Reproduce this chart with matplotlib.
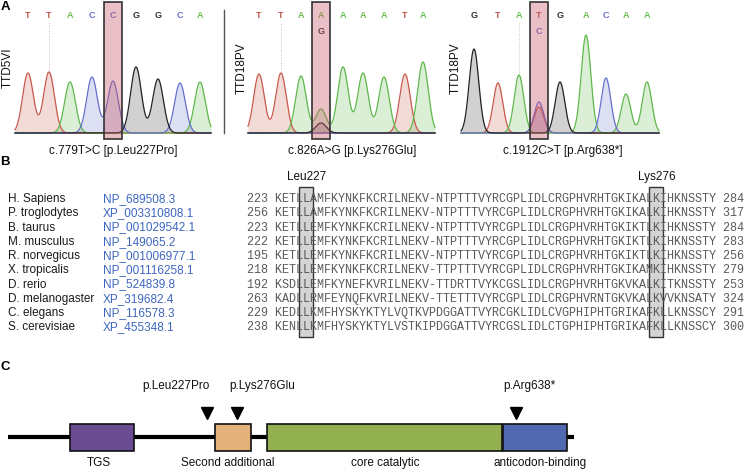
import numpy as np
import matplotlib
matplotlib.use("Agg")
import matplotlib.pyplot as plt
from matplotlib.patches import Rectangle

plt.rcParams['font.family'] = ['Liberation Sans', 'DejaVu Sans']

W, H = 748, 471

# ---------------- Panel A data (chromatograms) ----------------
samples = ["TTD5VI", "TTD18PV", "TTD18PV"]
captions = ["c.779T>C [p.Leu227Pro]", "c.826A>G [p.Lys276Glu]", "c.1912C>T [p.Arg638*]"]

calls_1 = list("TTACCGGCA")
peak_pos_1 = [28, 49, 70, 92, 113, 136, 158, 180, 200]
peak_h_1 = [60, 61, 51, 56, 52, 66, 54, 50, 51]

calls_2 = list("TTAAAAATA")
peak_pos_2 = [259, 281, 301, 321, 343, 363, 384, 405, 423]
peak_h_2 = [59, 60, 57, 24, 66, 60, 56, 59, 71]

calls_3 = list("GTATGACAA")
peak_pos_3 = [474, 498, 519, 539, 560, 586, 606, 626, 647]
peak_h_3 = [84, 50, 58, 26, 51, 98, 55, 39, 51]

mut_index = [4, 3, 3]
alt_base = [None, "G", "C"]
alt_height = [0, 10, 31]
cursor_index = [1, 1, 2]

# ---------------- Panel B data (alignment) ----------------
species = ["H. Sapiens", "P. troglodytes", "B. taurus", "M. musculus", "R. norvegicus",
           "X. tropicalis", "D. rerio", "D. melanogaster", "C. elegans", "S. cerevisiae"]
accessions = ["NP_689508.3", "XP_003310808.1", "NP_001029542.1", "NP_149065.2",
              "NP_001006977.1", "NP_001116258.1", "NP_524839.8", "XP_319682.4",
              "NP_116578.3", "XP_455348.1"]
seq_start = [223, 256, 223, 222, 195, 218, 192, 263, 229, 238]
seq_end = [284, 317, 284, 283, 256, 279, 253, 324, 291, 300]
sequences = [
    "KETLLAMFKYNKFKCRILNEKV-NTPTTTVYRCGPLIDLCRGPHVRHTGKIKALKIHKNSSTY",
    "KETLLAMFKYNKFKCRILNEKV-NTPTTTVYRCGPLIDLCRGPHVRHTGKIKALKIHKNSSTY",
    "KETLLEMFKYNKFKCRILNEKV-NTPTTTVYRCGPLIDLCRGPHVRHTGKIKTLKIHKNSSTY",
    "KETLLEMFKYNKFKCRILNEKV-NTPTTTVYRCGPLIDLCRGPHVRHTGKIKTLKIHKNSSTY",
    "KETLLEMFKYNKFKCRILNEKV-NTPTTTVYRCGPLIDLCRGPHVRHTGKIKTLKIHKNSSTY",
    "KETLLEMFKYNKFKCRILNEKV-TTPTTTVYRCGPLIDLCRGPHVRHTGKIKAMKIHKNSSTY",
    "KSDLLEMFKYNEFKVRILNEKV-TTDRTTVYKCGSLIDLCRGPHVRHTGKVKALKITKNSSTY",
    "KADLLRMFEYNQFKVRILNEKV-TTETTTVYRCGPLIDLCRGPHVRNTGKVKALKVVKNSATY",
    "KEDLLKMFHYSKYKTYLVQTKVPDGGATTVYRCGKLIDLCVGPHIPHTGRIKAFKLLKNSSCY",
    "KENLLKMFHYSKYKTYLVSTKIPDGGATTVYRCGSLIDLCTGPHIPHTGRIKAFKLLKNSSCY",
]
highlight_labels = ["Leu227", "Lys276"]
highlight_cols = [4, 54]

# ---------------- Panel C data (domains) ----------------
domain_names = ["TGS", "Second additional", "core catalytic", "anticodon-binding"]
domain_start = [70, 215, 267, 503]
domain_end = [134, 251, 502, 567]
domain_colors = ["#6a4c93", "#e3b27c", "#93b051", "#5068b0"]
protein_span = [8, 574]
mutations = ["p.Leu227Pro", "p.Lys276Glu", "p.Arg638*"]
mutation_pos = [207, 237, 516]

# ---------------- styles ----------------
base_line = {"A": "#5fb84a", "C": "#6670cc", "G": "#222222", "T": "#c8594c"}
base_text = {"A": "#6cbf52", "C": "#6a6fcc", "G": "#333333", "T": "#c0574b"}
SEQ_GRAY = "#5a5a5a"
ACC_BLUE = "#3d66c0"

fig = plt.figure(figsize=(W / 100, H / 100), dpi=100)
ax0 = fig.add_axes([0, 0, 1, 1])
ax0.set_xlim(0, W)
ax0.set_ylim(H, 0)
ax0.axis("off")


def px_axes(x0, y0, x1, y1):
    return fig.add_axes([x0 / W, 1 - y1 / H, (x1 - x0) / W, (y1 - y0) / H])


# ---------------- Panel A ----------------
panel_calls = [calls_1, calls_2, calls_3]
panel_pos = [peak_pos_1, peak_pos_2, peak_pos_3]
panel_h = [peak_h_1, peak_h_2, peak_h_3]
trace_span = [(15, 211), (248, 435), (461, 659)]
axes_span = [(10, 222), (244, 448), (458, 668)]
sigmas = [5.4, 5.3, 4.8]
sample_x = [8, 242, 456]
caption_x = [113, 352, 563]

for k in range(3):
    xa0, xa1 = axes_span[k]
    ax = px_axes(xa0, 2, xa1, 139)
    ax.set_xlim(xa0, xa1)
    ax.set_ylim(-6, 131)
    ax.axis("off")
    t0, t1 = trace_span[k]
    x = np.linspace(t0, t1, 1200)
    calls = panel_calls[k]
    pos = panel_pos[k]
    hts = panel_h[k]
    sig = sigmas[k]
    for b in "TACG":
        y = np.zeros_like(x)
        for c, p, h in zip(calls, pos, hts):
            if c == b:
                y += h * np.exp(-(x - p) ** 2 / (2 * sig ** 2))
        if alt_base[k] == b:
            p = pos[mut_index[k]]
            y += alt_height[k] * np.exp(-(x - p) ** 2 / (2 * sig ** 2))
        fc = "#9a9a9a" if b == "G" else base_line[b]
        ax.fill_between(x, 0, y, color=fc, alpha=0.22 if b != "G" else 0.45, lw=0)
        ax.plot(x, y, color=base_line[b], lw=0.9)
    # cursor dotted line
    ci = cursor_index[k]
    ax.plot([pos[ci], pos[ci]], [hts[ci] + 2, 111], ls=":", lw=0.7,
            color="#d9b4b4" if k < 2 else "#b9d4b0")
    # base calls
    for c, p in zip(calls, pos):
        ax.text(p, 118, c, color=base_text[c], fontsize=6.5, fontweight="bold",
                ha="center", va="center")
    if alt_base[k]:
        p = pos[mut_index[k]]
        ax.text(p, 101, alt_base[k], color=base_text[alt_base[k]], fontsize=6.5,
                fontweight="bold", ha="center", va="center")
    # highlight box
    pm = pos[mut_index[k]]
    ax.add_patch(Rectangle((pm - 9.2, -6), 18.4, 137, facecolor=(0.80, 0.35, 0.42, 0.38),
                           edgecolor="#333333", lw=1.2, clip_on=False, zorder=5))
    ax0.text(sample_x[k], 68, samples[k], rotation=90, fontsize=8.5, ha="center",
             va="center", color="#111111")
    ax0.text(caption_x[k], 151, captions[k], fontsize=8.5, ha="center", va="center",
             color="#111111")

ax0.plot([224, 224], [10, 133], color="#555555", lw=1.0)

# panel letters
for lab, yy in zip("ABC", [7, 162, 367]):
    ax0.text(5, yy, lab, fontsize=9.5, fontweight="bold", ha="center", va="center")

# ---------------- Panel B ----------------
row_y0, row_dy = 199, 14.26
seq_x0 = 247
cw = 7.0
for i in range(len(species)):
    yy = row_y0 + i * row_dy
    ax0.text(8, yy, species[i], fontsize=8.5, ha="left", va="center", color="#1a1a1a")
    ax0.text(103, yy, accessions[i], fontsize=8.5, ha="left", va="center", color=ACC_BLUE)
    row = f"{seq_start[i]} {sequences[i]} {seq_end[i]}"
    ax0.text(seq_x0, yy, row, fontsize=8.5, family="Liberation Mono", ha="left",
             va="center", color=SEQ_GRAY, zorder=3)

for lab, col in zip(highlight_labels, highlight_cols):
    cx = seq_x0 + (col + 4 + 0.5) * cw
    ax0.add_patch(Rectangle((cx - cw, 187), 2 * cw, 150, facecolor="#d4d4d4",
                            edgecolor="#333333", lw=1.0, zorder=2))
    ax0.text(cx, 177, lab, fontsize=8.5, ha="center", va="center", color="#111111")

# ---------------- Panel C ----------------
ax0.plot(protein_span, [437, 437], color="black", lw=3, solid_capstyle="butt", zorder=1)
for s, e, c in zip(domain_start, domain_end, domain_colors):
    ax0.add_patch(Rectangle((s, 424), e - s, 27, facecolor=c, edgecolor="#111111",
                            lw=1.2, zorder=2))
domain_label_x = [99, 228, 385, 540]
for name, lx in zip(domain_names, domain_label_x):
    ax0.text(lx, 463, name, fontsize=8.5, ha="center", va="center", color="#111111")
mutation_label_x = [176, 262, 529]
ax0.plot(mutation_pos, [412.5] * 3, "v", ms=8, color="black", zorder=3)
for name, lx in zip(mutations, mutation_label_x):
    ax0.text(lx, 386, name, fontsize=8.5, ha="center", va="center", color="#111111")

fig.savefig("out.png", dpi=100)
